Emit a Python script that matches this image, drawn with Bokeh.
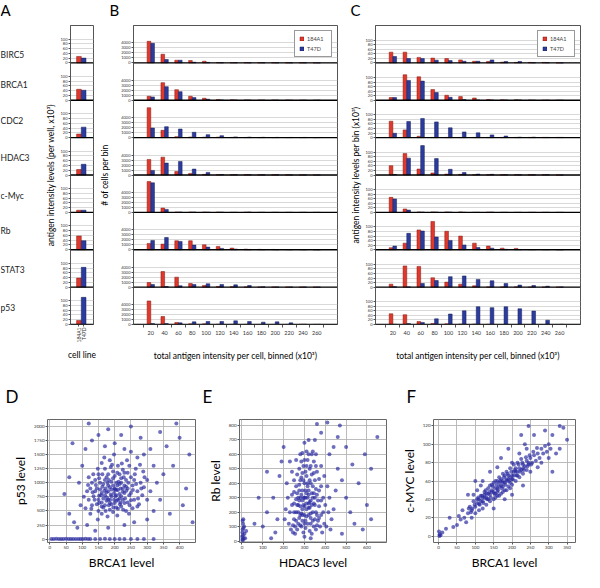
import math
from bokeh.plotting import figure
from bokeh.layouts import column, row
from bokeh.models import Range1d, FixedTicker, CustomJSTickFormatter, Span
from bokeh.embed import file_html
from bokeh.resources import INLINE
from bokeh.core.properties import value

# ---------------- data ----------------
genes = ["BIRC5", "BRCA1", "CDC2", "HDAC3", "c-Myc", "Rb", "STAT3", "p53"]
cell_lines = ["184A1", "T47D"]
bins = [20, 40, 60, 80, 100, 120, 140, 160, 180, 200, 220, 240, 260]

# Panel A: antigen intensity levels per well (x10^3)
well_184A1 = [27, 46, 15, 23, 9, 58, 38, 17]
well_T47D = [20, 42, 44, 45, 9, 38, 83, 114]

# Panel B: number of cells per bin (rows follow `genes`)
cells_184A1 = [
    [4330, 1730, 530, 470, 330, 70, 50, 50, 40, 40, 30, 30, 0],
    [800, 3530, 2130, 800, 400, 130, 80, 60, 50, 40, 40, 0, 0],
    [6000, 1470, 200, 130, 100, 100, 50, 40, 30, 20, 20, 20, 0],
    [3120, 3580, 720, 320, 120, 60, 50, 40, 30, 30, 30, 20, 0],
    [6200, 870, 70, 60, 60, 60, 0, 30, 0, 0, 0, 0, 0],
    [1270, 1130, 1800, 1800, 1000, 670, 330, 120, 80, 60, 50, 40, 0],
    [930, 3130, 2000, 730, 330, 130, 70, 40, 30, 30, 20, 20, 20],
    [4730, 1600, 400, 130, 130, 60, 40, 30, 20, 20, 20, 60, 40],
]
cells_T47D = [
    [3930, 670, 530, 130, 100, 40, 40, 30, 30, 20, 20, 20, 0],
    [670, 2730, 1730, 530, 200, 50, 40, 30, 30, 20, 0, 0, 0],
    [1930, 2200, 1730, 1070, 600, 400, 150, 100, 60, 50, 40, 40, 30],
    [920, 2390, 2720, 1190, 520, 100, 60, 50, 40, 30, 20, 20, 0],
    [5930, 600, 60, 50, 30, 30, 0, 60, 0, 0, 0, 0, 0],
    [1870, 2470, 1670, 930, 530, 270, 130, 60, 40, 30, 30, 20, 0],
    [530, 130, 270, 530, 670, 530, 470, 330, 60, 40, 30, 20, 20],
    [200, 200, 330, 530, 600, 600, 730, 600, 470, 530, 330, 60, 40],
]

# Panel C: antigen intensity levels per bin (x10^3)
level_184A1 = [
    [47, 47, 24, 21, 19, 13, 7, 6, 3, 2, 2, 2, 0],
    [12, 112, 103, 47, 22, 16, 10, 3, 2, 2, 1, 0, 0],
    [72, 34, 6, 1, 1, 1, 1, 1, 1, 1, 1, 1, 1],
    [41, 94, 26, 9, 4, 3, 1, 1, 1, 1, 1, 1, 0],
    [66, 15, 2, 2, 2, 2, 0, 1, 0, 0, 0, 0, 0],
    [9, 29, 87, 124, 81, 60, 29, 16, 7, 6, 1, 1, 0],
    [13, 93, 91, 41, 22, 13, 6, 1, 1, 1, 0, 0, 0],
    [47, 43, 13, 4, 3, 2, 2, 1, 0, 0, 0, 0, 0],
]
level_T47D = [
    [28, 19, 19, 12, 10, 7, 7, 13, 6, 6, 1, 1, 0],
    [12, 87, 84, 34, 13, 3, 1, 1, 1, 1, 0, 0, 0],
    [19, 71, 84, 69, 43, 25, 21, 12, 7, 2, 2, 1, 1],
    [2, 74, 129, 72, 25, 11, 4, 3, 1, 1, 1, 1, 0],
    [59, 10, 1, 1, 1, 0, 0, 1, 0, 0, 0, 0, 0],
    [16, 72, 82, 56, 41, 21, 10, 7, 2, 1, 1, 1, 0],
    [2, 1, 16, 29, 46, 49, 34, 28, 16, 9, 7, 4, 1],
    [1, 4, 9, 25, 46, 60, 78, 74, 78, 69, 59, 19, 1],
]

# Panel D: BRCA1 level vs p53 level (per cell)
brca1_p53 = [
    (150,700),(160,820),(170,600),(180,950),(190,760),(200,880),(210,700),(220,1000),(230,820),(240,650),
    (175,1100),(185,520),(195,1200),(205,560),(215,1150),(225,900),(235,1050),(245,780),(255,950),(165,980),
    (155,880),(145,620),(135,760),(125,900),(140,1050),(160,450),(170,1250),(180,700),(190,1020),(200,640),
    (210,1300),(220,580),(230,1180),(240,900),(250,1100),(260,700),(270,850),(280,1000),(265,1250),(275,620),
    (130,600),(120,700),(115,850),(110,550),(125,450),(150,1150),(160,1350),(185,1400),(195,480),(205,1000),
    (215,800),(225,700),(235,500),(245,1300),(255,550),(200,900),(190,620),(180,850),(170,780),(160,650),
    (210,870),(220,760),(230,950),(185,920),(175,680),(165,560),(195,1080),(205,780),(215,980),(225,1230),
    (150,500),(140,850),(130,1000),(120,1100),(250,820),(260,1050),(270,580),(285,780),(290,920),(300,700),
    (178,400),(208,420),(238,1400),(198,1500),(168,1450),(148,350),(288,1200),(300,1050),(310,850),(105,750),
    (188,790),(198,700),(172,900),(182,1050),(208,950),(218,650),(152,770),(162,1150),(232,720),(242,1000),
    (145,900),(155,1000),(165,720),(175,830),(185,640),(195,950),(205,870),(215,720),(225,840),(235,930),
    (160,580),(170,1050),(180,1150),(190,880),(200,1120),(210,540),(220,1080),(230,640),(240,1180),(250,690),
    (138,700),(148,1250),(158,780),(168,860),(178,1000),(188,1280),(198,820),(208,1180),(218,900),(228,1100),
    (176,740),(186,700),(196,560),(206,680),(216,620),(226,520),(236,860),(246,600),(256,870),(266,980),
    (132,830),(142,960),(152,640),(162,930),(172,500),(182,600),(192,1320),(202,760),(212,1020),(222,1340),
    (118,960),(128,540),(262,1150),(272,720),(282,900),(292,1100),(152,1080),(244,450),(134,1150),(278,1320),
    (60,450),(75,300),(90,1000),(95,600),(85,200),(100,1300),(110,1600),(130,1750),(150,1850),(170,1650),
    (200,1700),(230,1600),(250,1550),(270,1450),(290,1500),(320,1300),(330,1000),(340,700),(350,1150),(320,500),
    (300,350),(260,300),(230,250),(180,200),(140,150),(115,250),(360,1650),(380,1300),(400,1800),(420,900),
    (430,1500),(410,600),(370,450),(340,1900),(250,2000),(180,1950),(120,2050),(60,1100),(45,800),(70,1700),
    (440,300),(390,2050),(280,1800),(310,1600),(220,1850),
    (5,0),(20,5),(35,0),(50,8),(65,0),(80,4),(95,0),(110,6),(125,0),(140,3),(155,0),(170,5),(185,0),(200,2),
    (215,0),(230,4),(250,0),(270,3),(290,0),(320,2),(12,3),(28,0),(42,4),(58,0),(72,2),(88,0),(102,3),(118,0),
]

# Panel E: HDAC3 level vs Rb level (per cell)
hdac3_rb = [
    (250,150),(260,200),(270,120),(280,300),(290,220),(300,180),(310,260),(320,350),(330,280),(340,200),
    (350,150),(360,320),(370,240),(380,180),(260,380),(270,300),(280,420),(290,350),(300,400),(310,450),
    (320,180),(330,120),(340,380),(350,420),(360,480),(250,260),(240,320),(230,200),(225,120),(235,80),
    (245,60),(255,100),(265,80),(275,160),(285,100),(295,60),(305,90),(315,120),(325,70),(335,50),
    (345,100),(355,80),(365,140),(375,100),(385,60),(395,120),(400,250),(390,300),(380,380),(370,430),
    (300,300),(310,220),(290,280),(280,240),(320,320),(330,400),(305,480),(295,520),(285,550),(315,560),
    (275,500),(265,460),(325,500),(345,550),(335,600),(355,600),(310,620),(300,680),(320,700),(290,610),
    (250,420),(240,480),(220,300),(215,400),(210,220),(205,150),(230,550),(260,560),(380,520),(395,450),
    (410,380),(420,300),(415,200),(430,150),(405,100),(425,80),(440,220),(450,350),
    (285,190),(295,250),(305,140),(315,300),(325,230),(335,330),(345,260),(275,350),(265,250),(355,200),
    (270,200),(280,180),(290,140),(300,240),(310,170),(320,260),(330,190),(340,300),(350,250),(360,180),
    (275,280),(285,320),(295,300),(305,350),(315,400),(325,420),(335,250),(345,330),(355,360),(365,280),
    (260,140),(270,250),(280,110),(290,180),(300,120),(310,330),(320,230),(330,160),(340,140),(350,300),
    (265,330),(275,390),(285,440),(295,420),(305,300),(315,380),(325,270),(335,460),(345,470),(355,520),
    (240,250),(250,340),(260,290),(300,560),(320,600),(330,520),(290,470),(280,600),(310,520),(340,620),
    (370,350),(380,280),(390,200),(370,160),(360,110),(250,200),(245,110),(255,50),(300,30),(330,20),
    (100,100),(120,200),(150,300),(170,150),(180,450),(190,550),(160,60),(140,20),(200,650),(350,700),
    (380,750),(420,600),(460,500),(480,420),(500,300),(520,200),(540,120),(560,400),(600,250),(620,500),
    (650,720),(590,600),(470,800),(410,820),(360,810),(500,650),(530,530),(580,80),(620,150),(480,50),
    (440,650),(460,720),(120,480),(80,300),(60,120),
    (2,10),(4,40),(3,80),(5,120),(6,150),(2,60),(8,20),(10,100),(4,5),(12,50),(15,20),(20,70),(3,140),
    (7,90),(1,30),
]

# Panel F: BRCA1 level vs c-MYC level (per cell)
brca1_cmyc = [
    (70,20),(80,25),(90,28),(100,32),(110,35),(120,38),(130,42),(140,45),(150,48),(160,52),
    (170,55),(180,58),(190,62),(200,66),(210,70),(220,74),(230,78),(240,82),(250,85),(260,88),
    (85,32),(95,38),(105,40),(115,44),(125,48),(135,52),(145,56),(155,60),(165,64),(175,68),
    (185,70),(195,74),(205,78),(215,80),(225,84),(100,25),(110,28),(120,30),(130,34),(140,38),
    (150,40),(160,44),(170,46),(180,50),(190,54),(200,56),(210,60),(220,64),(230,68),(240,72),
    (125,45),(135,40),(145,50),(155,46),(165,58),(175,54),(185,62),(195,58),(205,70),(215,66),
    (140,55),(150,58),(160,60),(170,62),(180,66),(120,42),(110,40),(130,46),(160,48),(175,60),
    (190,66),(200,62),(210,74),(230,74),(245,78),(255,80),(265,82),(270,90),(280,95),(290,98),
    (105,36),(115,38),(125,42),(135,46),(145,48),(155,52),(165,54),(175,58),(185,60),(195,64),
    (205,66),(215,70),(225,72),(235,76),(245,80),(112,34),(122,36),(132,40),(142,42),(152,46),
    (162,50),(172,52),(182,56),(192,60),(202,62),(212,66),(222,70),(232,72),(242,76),(252,78),
    (118,44),(128,50),(138,48),(148,54),(158,56),(168,60),(178,64),(188,68),(198,70),(208,72),
    (218,78),(228,80),(238,86),(248,88),(258,92),(98,34),(108,42),(92,30),(88,26),(82,30),
    (268,96),(275,85),(285,90),(295,92),(305,95),(195,52),(185,50),(175,48),(165,44),(155,42),
    (60,18),(65,28),(75,15),(90,20),(50,12),(55,22),(95,45),(105,50),(115,55),(200,80),(220,90),(240,95),
    (250,70),(270,75),(300,100),(310,110),(320,90),(340,118),(350,105),(330,120),(290,115),(260,110),
    (245,120),(235,100),(280,80),(300,85),(330,95),(310,70),(200,45),(230,55),(180,40),(150,30),
    (120,60),(140,70),(100,60),(80,45),(40,10),(30,20),(20,8),(10,4),(3,2),(2,0),(1,5),(5,1),
    (225,110),(190,95),(170,85),(160,75),
]

# ---------------- styling / layout ----------------
FONT = "Lato"
RED, RED_EDGE = "#e2372b", "#7d1a12"
BLUE, BLUE_EDGE = "#2c3c9e", "#121a52"
DOT = "#2a2aa0"
GRID = "#cfcfcf"
FRAME = "#555555"


def fig(width, height, bl, br, bt, bb, **kw):
    p = figure(width=width, height=height, output_backend="svg", toolbar_location=None,
               min_border_left=bl, min_border_right=br, min_border_top=bt, min_border_bottom=bb,
               **kw)
    p.background_fill_color = "white"
    p.border_fill_color = "white"
    return p


def blank(p):
    p.outline_line_color = None
    p.grid.visible = False
    p.xgrid.visible = False
    p.ygrid.visible = False


def style_axis(ax, tick_size, label_size, standoff):
    ax.major_label_text_font = FONT
    ax.major_label_text_font_size = tick_size
    ax.major_label_text_color = "#333333"
    ax.axis_label_text_font = FONT
    ax.axis_label_text_font_size = label_size
    ax.axis_label_text_font_style = "normal"
    ax.axis_label_text_color = "black"
    ax.axis_label_standoff = standoff
    ax.axis_line_color = FRAME
    ax.major_tick_line_color = FRAME
    ax.major_tick_in = 0
    ax.major_tick_out = 2
    ax.minor_tick_line_color = None
    ax.major_label_standoff = 1


strip_fmt = """
const k = Math.floor(tick / H + 1e-6);
return String(Math.round(tick - k * H));
"""


def strip_panel(width, bl, br, H, xr, strip_ticks, ylabel, xlabel, ystand, xstand):
    p = fig(width, 347, bl, br, 0, 48, x_range=Range1d(*xr), y_range=Range1d(0, 8 * H))
    p.outline_line_color = FRAME
    p.xgrid.visible = False
    p.ygrid.grid_line_color = GRID
    p.ygrid.grid_line_width = 0.8
    p.yaxis.ticker = FixedTicker(ticks=[(7 - k) * H + t for k in range(8) for t in strip_ticks])
    p.yaxis.formatter = CustomJSTickFormatter(args=dict(H=H), code=strip_fmt)
    p.yaxis.axis_label = ylabel
    p.xaxis.axis_label = xlabel
    style_axis(p.yaxis[0], "4px", "8.5px", ystand)
    style_axis(p.xaxis[0], "5.5px", "8.5px", xstand)
    for k in range(8):
        p.add_layout(Span(location=(7 - k) * H, dimension="width", line_color="black", line_width=1.3))
    return p


def stacked_bars(p, H, xs, series, color, edge, width, label=None):
    bx, bb, bt = [], [], []
    for k, vals in enumerate(series):
        base = (7 - k) * H
        for x, v in zip(xs, vals):
            bx.append(x)
            bb.append(base)
            bt.append(base + v)
    kw = dict(legend_label=label) if label else {}
    return p.vbar(x=bx, bottom=bb, top=bt, width=width, fill_color=color,
                  line_color=edge, line_width=0.5, **kw)


def style_legend(p):
    lg = p.legend[0]
    lg.location = "top_right"
    lg.margin = 5
    lg.padding = 4
    lg.spacing = 3
    lg.glyph_width = 5
    lg.glyph_height = 5
    lg.label_height = 7
    lg.label_standoff = 3
    lg.label_text_font = FONT
    lg.label_text_font_size = "5.5px"
    lg.border_line_color = "#333333"
    lg.border_line_width = 0.8
    lg.background_fill_alpha = 1.0


# header with panel letters A B C
head_top = fig(584, 25, 0, 0, 0, 0, x_range=Range1d(8, 592), y_range=Range1d(33, 8),
               x_axis_location=None, y_axis_location=None)
blank(head_top)
head_top.text(x=[8, 117, 358], y=[17.5, 17.5, 17.5], text=["A", "B", "C"],
              text_font=value(FONT), text_font_size=value("15px"),
              text_baseline="alphabetic", text_align="left", text_color="black")

# gene names column
gene_fig = fig(42, 347, 0, 0, 0, 48, x_range=Range1d(0, 1), y_range=Range1d(0, 8),
               x_axis_location=None, y_axis_location=None)
blank(gene_fig)
gene_lift = [0.2, 0.42, 0.45, 0.45, 0.45, 0.5, 0.47, 0.45]
gene_fig.text(x=[0] * 8, y=[(7 - k) + gene_lift[k] for k in range(8)], text=genes,
              text_font=value(FONT), text_font_size=value("8.5px"),
              text_baseline="middle", text_align="left", text_color="#222222")

# Panel A
H_A = 157
pA = strip_panel(55, 26, 4, H_A, (-1.8, 3.1), [0, 20, 40, 60, 80, 100],
                 "antigen intensity levels (per well, x10³)", "cell line", 2, 5)
stacked_bars(pA, H_A, [0], [[v] for v in well_184A1], RED, RED_EDGE, 1.0)
stacked_bars(pA, H_A, [1], [[v] for v in well_T47D], BLUE, BLUE_EDGE, 1.0)
pA.xaxis.ticker = FixedTicker(ticks=[0, 1])
pA.xaxis.formatter = CustomJSTickFormatter(args=dict(names=cell_lines),
                                           code="return names[Math.round(tick)];")
pA.xaxis.major_label_orientation = math.pi / 2
pA.xaxis.major_label_text_font_size = "5px"

# Panel B
H_B = 7500
bin_edges = [b - 10 for b in bins] + [bins[-1] + 10]
pB = strip_panel(245, 34, 5, H_B, (-5, 290), [0, 1000, 2000, 3000, 4000],
                 "# of cells per bin", "total antigen intensity per cell, binned (x10³)", 8, 13)
stacked_bars(pB, H_B, [b - 2.65 for b in bins], cells_184A1, RED, RED_EDGE, 5.3, "184A1")
stacked_bars(pB, H_B, [b + 2.65 for b in bins], cells_T47D, BLUE, BLUE_EDGE, 5.3, "T47D")
pB.xaxis.ticker = FixedTicker(ticks=bins, minor_ticks=bin_edges)
pB.xaxis.major_tick_out = 0
pB.xaxis.minor_tick_line_color = FRAME
pB.xaxis.minor_tick_in = 0
pB.xaxis.minor_tick_out = 3
pB.xaxis.major_label_standoff = 3
style_legend(pB)

# Panel C
H_C = 164
pC = strip_panel(242, 33, 4, H_C, (-5, 290), [0, 20, 40, 60, 80, 100],
                 "antigen intensity levels per bin (x10³)",
                 "total antigen intensity per cell, binned (x10³)", 2, 13)
stacked_bars(pC, H_C, [b - 2.65 for b in bins], level_184A1, RED, RED_EDGE, 5.3, "184A1")
stacked_bars(pC, H_C, [b + 2.65 for b in bins], level_T47D, BLUE, BLUE_EDGE, 5.3, "T47D")
pC.xaxis.ticker = FixedTicker(ticks=bins, minor_ticks=bin_edges)
pC.xaxis.major_tick_out = 0
pC.xaxis.minor_tick_line_color = FRAME
pC.xaxis.minor_tick_in = 0
pC.xaxis.minor_tick_out = 3
pC.xaxis.major_label_standoff = 3
style_legend(pC)

# header with letters D E F
head_bot = fig(584, 40, 0, 0, 0, 0, x_range=Range1d(8, 592), y_range=Range1d(420, 380),
               x_axis_location=None, y_axis_location=None)
blank(head_bot)
head_bot.text(x=[13, 210, 414], y=[404, 404, 404], text=["D", "E", "F"],
              text_font=value(FONT), text_font_size=value("17px"),
              text_baseline="alphabetic", text_align="left", text_color="black")


def scatter_panel(width, bl, br, xr, yr, xticks, yticks, pts, xlabel, ylabel):
    p = fig(width, 160, bl, br, 7, 29, x_range=Range1d(*xr), y_range=Range1d(*yr))
    p.outline_line_color = "#666666"
    p.outline_line_width = 1
    p.xaxis.ticker = FixedTicker(ticks=xticks)
    p.yaxis.ticker = FixedTicker(ticks=yticks)
    p.grid.grid_line_color = "#b4b4b4"
    p.grid.grid_line_width = 0.9
    p.xaxis.axis_label = xlabel
    p.yaxis.axis_label = ylabel
    style_axis(p.xaxis[0], "4.5px", "12px", 3)
    style_axis(p.yaxis[0], "4.5px", "12px", 3)
    p.axis.axis_line_color = None
    xs = [a for a, _ in pts]
    ys = [b for _, b in pts]
    p.scatter(xs, ys, size=4.0, fill_color=DOT, line_color=None, fill_alpha=0.68)
    return p


pD = scatter_panel(204, 47, 9, (-7, 449), (-60, 2123), list(range(0, 401, 50)),
                   list(range(0, 2001, 250)), brca1_p53, "BRCA1 level", "p53 level")
pE = scatter_panel(190, 35, 8, (-12, 694), (-10, 841), list(range(0, 601, 100)),
                   list(range(0, 801, 100)), hdac3_rb, "HDAC3 level", "Rb level")
pF = scatter_panel(190, 39, 9, (-14, 373), (-7, 127), list(range(0, 351, 50)),
                   list(range(0, 121, 20)), brca1_cmyc, "BRCA1 level", "c-MYC level")

layout = column(head_top, row(gene_fig, pA, pB, pC), head_bot, row(pD, pE, pF))

with open("out.html", "w") as f:
    f.write(file_html(layout, INLINE))
